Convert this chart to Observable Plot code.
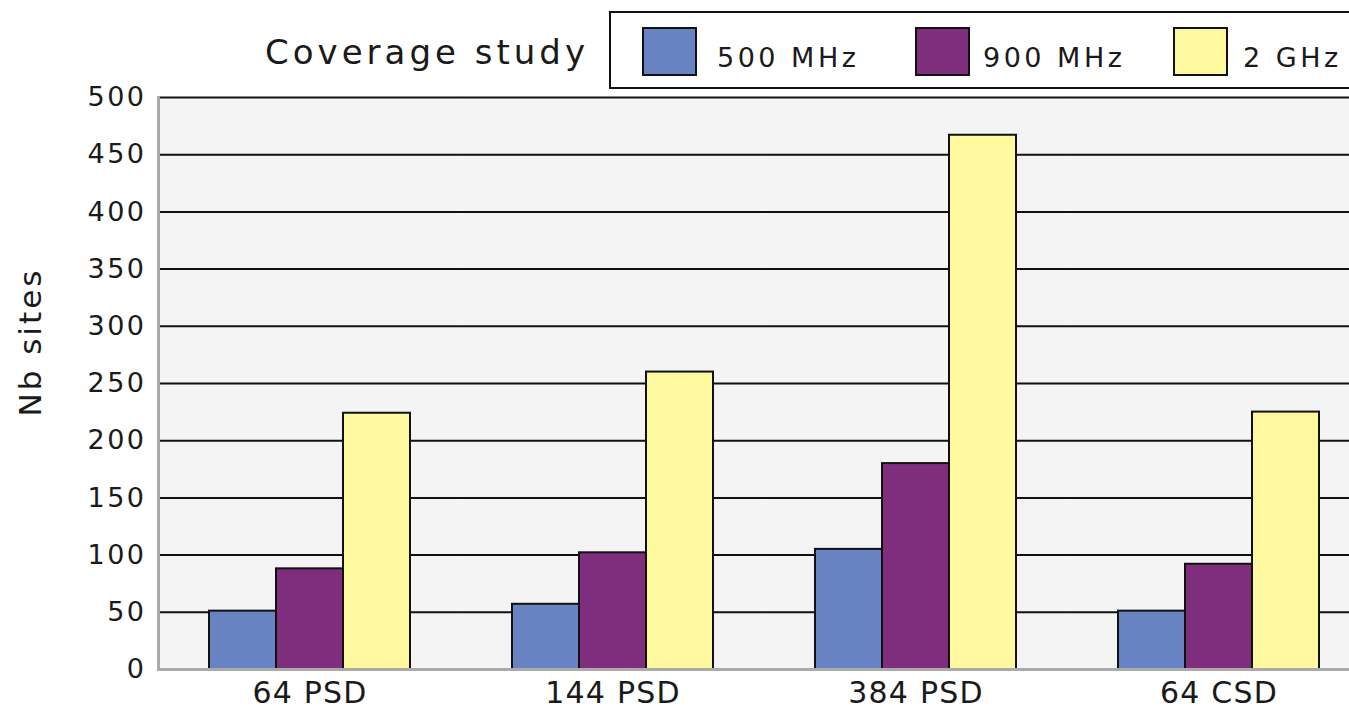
<!DOCTYPE html>
<html>
<head>
<meta charset="utf-8">
<script src="https://cdn.jsdelivr.net/npm/d3@7"></script>
<script src="https://cdn.jsdelivr.net/npm/@observablehq/plot@0.6"></script>
<style>
  html, body { margin: 0; padding: 0; background: #fff; overflow: hidden; }
  #wrap { position: relative; width: 1349px; height: 710px; }
  #chart { position: absolute; left: 0; top: 0; }
  #head { position: absolute; left: 0; top: 0; width: 1349px; height: 95px; font-family: "DejaVu Sans", sans-serif; color: #1a1a1a; }
  #title { position: absolute; right: 760px; top: 35px; font-size: 34px; letter-spacing: 4px; line-height: 1; white-space: nowrap; }
  #legend { position: absolute; left: 609px; top: 11px; width: 760px; height: 74px; border: 2px solid #111; background: #fff; }
  .sw { position: absolute; top: 14px; width: 51px; height: 45px; border: 2px solid #111; }
  .lb { position: absolute; top: 31px; font-size: 27px; letter-spacing: 3.5px; line-height: 1; white-space: nowrap; }
  g[aria-label="y-axis tick label"] { letter-spacing: 2.5px; }
  g[aria-label="fx-axis tick label"] { letter-spacing: 1.2px; }
  g[aria-label="text"] { letter-spacing: 3px; }
</style>
</head>
<body>
<div id="wrap">
  <div id="chart"></div>
  <div id="head">
    <div id="title">Coverage study</div>
    <div id="legend"></div>
  </div>
</div>
<script>
const categories = ["64 PSD", "144 PSD", "384 PSD", "64 CSD"];
const series = ["500 MHz", "900 MHz", "2 GHz"];
const colors = ["#6783c1", "#7f2e7e", "#fef99e"];
const values500 = [51, 57, 105, 51];
const values900 = [88, 102, 180, 92];
const values2G = [224, 260, 467, 225];
const yTicks = [0, 50, 100, 150, 200, 250, 300, 350, 400, 450, 500];
const titleText = "Coverage study";
const yLabel = "Nb sites";

const seriesValues = [values500, values900, values2G];
const data = categories.flatMap((c, i) =>
  series.map((s, j) => ({category: c, series: s, value: seriesValues[j][i]}))
);

const plot = Plot.plot({
  width: 1349,
  height: 710,
  marginLeft: 157,
  marginRight: -22,
  marginTop: 97,
  marginBottom: 41,
  style: {fontFamily: "DejaVu Sans, sans-serif", color: "#1a1a1a", background: "transparent"},
  fx: {domain: categories, padding: 0, label: null},
  x: {domain: series, paddingInner: 0, paddingOuter: 0.75, axis: null},
  y: {domain: [0, 500], label: null},
  color: {domain: series, range: colors},
  marks: [
    Plot.frame({fill: "#f4f4f4", stroke: null}),
    Plot.ruleY(yTicks.filter(d => d > 0), {stroke: "#111", strokeWidth: 2}),
    Plot.barY(data, {fx: "category", x: "series", y: "value", fill: "series", stroke: "#111", strokeWidth: 2}),
    Plot.ruleY([0], {stroke: "#aaa", strokeWidth: 3}),
    Plot.frame({anchor: "left", stroke: "#aaa", strokeWidth: 3, facetAnchor: "left"}),
    Plot.axisY({ticks: yTicks, tickSize: 0, tickPadding: 12, fontSize: 27, label: null}),
    Plot.text([yLabel], {frameAnchor: "left", rotate: -90, dx: -127, dy: 33, fontSize: 31, fill: "#1a1a1a", facetAnchor: "left"}),
    Plot.axisFx({anchor: "bottom", tickSize: 0, tickPadding: 12, fontSize: 30, label: null})
  ]
});
document.getElementById("chart").appendChild(plot);

document.getElementById("title").textContent = titleText;
const legend = document.getElementById("legend");
const swLeft = [31, 304, 562];
const lbLeft = [106, 372, 632];
series.forEach((s, i) => {
  const sw = document.createElement("div");
  sw.className = "sw";
  sw.style.left = swLeft[i] + "px";
  sw.style.background = colors[i];
  legend.appendChild(sw);
  const lb = document.createElement("div");
  lb.className = "lb";
  lb.style.left = lbLeft[i] + "px";
  lb.textContent = s;
  legend.appendChild(lb);
});
</script>
</body>
</html>
